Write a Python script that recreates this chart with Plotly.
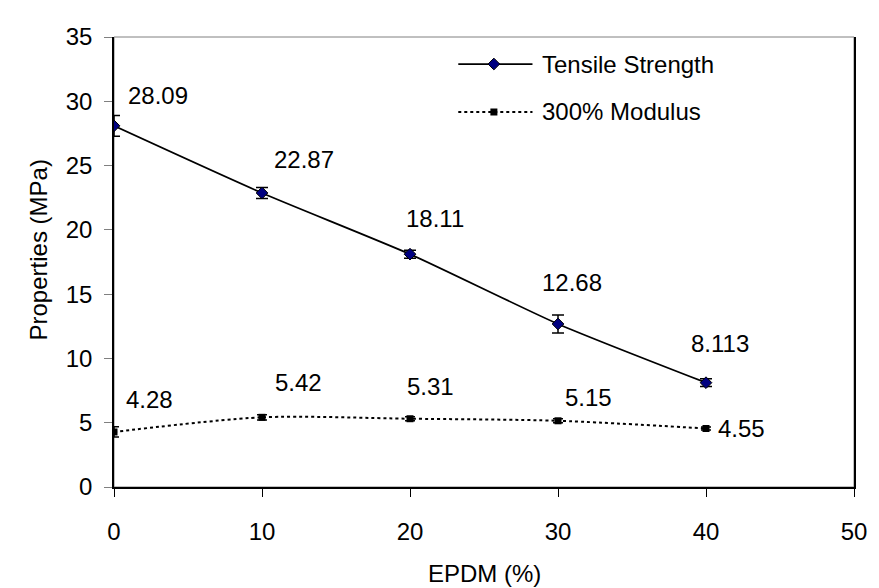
import plotly.graph_objects as go

epdm = [0, 10, 20, 30, 40]
tensile = [28.09, 22.87, 18.11, 12.68, 8.113]
tensile_err = [0.8, 0.43, 0.31, 0.7, 0.3]
modulus = [4.28, 5.42, 5.31, 5.15, 4.55]
modulus_err = [0.4, 0.2, 0.15, 0.15, 0.12]
tensile_labels = ["28.09", "22.87", "18.11", "12.68", "8.113"]
modulus_labels = ["4.28", "5.42", "5.31", "5.15", "4.55"]
x_ticks = [0, 10, 20, 30, 40, 50]
y_ticks = [0, 5, 10, 15, 20, 25, 30, 35]

# label pixel offsets (dx, dy)
tensile_off = [(44, 30), (42, 33), (25, 36), (14, 41), (14, 39)]
modulus_off = [(35, 32), (36, 35), (20, 32), (30, 23), (35, 0)]

FONT = "Liberation Sans, Arial, sans-serif"
FS = 24
NAVY = "#000080"

fig = go.Figure()
fig.add_trace(go.Scatter(
    x=epdm, y=tensile, mode="lines+markers", name="Tensile Strength",
    line=dict(color="black", width=1.75, shape="spline", smoothing=0.6),
    marker=dict(symbol="diamond", size=9, color=NAVY, line=dict(color="black", width=1)),
    error_y=dict(type="data", array=tensile_err, visible=True, color="black", thickness=1.5, width=6),
    showlegend=False))
fig.add_trace(go.Scatter(
    x=epdm, y=modulus, mode="lines+markers", name="300% Modulus",
    line=dict(color="black", width=2, dash="3px,3px", shape="spline", smoothing=0.8),
    marker=dict(symbol="square", size=7, color="black"),
    error_y=dict(type="data", array=modulus_err, visible=True, color="black", thickness=1.5, width=5),
    showlegend=False))

# legend samples on an overlay axis (0..1 over the plot area)
L_X0, L_X1, L_XM = (462 - 114) / 748, (537 - 114) / 748, (498 - 114) / 748
L_Y1, L_Y2 = (487 - 64) / 450, (487 - 112) / 450
fig.add_trace(go.Scatter(x=[L_X0, L_X1], y=[L_Y1, L_Y1], mode="lines",
                         line=dict(color="black", width=1.75), xaxis="x2", yaxis="y2",
                         showlegend=False, hoverinfo="skip"))
fig.add_trace(go.Scatter(x=[L_XM], y=[L_Y1], mode="markers",
                         marker=dict(symbol="diamond", size=9, color=NAVY, line=dict(color="black", width=1)),
                         xaxis="x2", yaxis="y2", showlegend=False, hoverinfo="skip"))
fig.add_trace(go.Scatter(x=[L_X0, L_X1], y=[L_Y2, L_Y2], mode="lines",
                         line=dict(color="black", width=2, dash="3px,3px"), xaxis="x2", yaxis="y2",
                         showlegend=False, hoverinfo="skip"))
fig.add_trace(go.Scatter(x=[L_XM], y=[L_Y2], mode="markers",
                         marker=dict(symbol="square", size=7, color="black"),
                         xaxis="x2", yaxis="y2", showlegend=False, hoverinfo="skip"))

annotations = []
for name, yy in (("Tensile Strength", L_Y1), ("300% Modulus", L_Y2)):
    annotations.append(dict(x=(545 - 114) / 748, y=yy, xref="paper", yref="paper", text=name,
                            showarrow=False, xanchor="left", yanchor="middle",
                            font=dict(family=FONT, size=FS, color="black")))

for xs, ys, labs, offs in ((epdm, tensile, tensile_labels, tensile_off),
                           (epdm, modulus, modulus_labels, modulus_off)):
    for xv, yv, lab, (dx, dy) in zip(xs, ys, labs, offs):
        annotations.append(dict(x=xv, y=yv, xref="x", yref="y", text=lab, showarrow=False,
                                xshift=dx, yshift=dy, xanchor="center", yanchor="middle",
                                font=dict(family=FONT, size=FS, color="black")))

annotations.append(dict(x=(22 - 114) / 748, y=(487 - 250) / 450, xref="paper", yref="paper",
                        text="Properties (MPa)", showarrow=False, textangle=-90,
                        font=dict(family=FONT, size=FS, color="black")))
annotations.append(dict(x=0.5, y=(487 - 573) / 450, xref="paper", yref="paper",
                        text="EPDM (%)", showarrow=False, xanchor="center", yanchor="middle",
                        font=dict(family=FONT, size=FS, color="black")))

fig.update_layout(
    width=879, height=588,
    margin=dict(l=114, r=17, t=37, b=101),
    paper_bgcolor="white", plot_bgcolor="white",
    font=dict(family=FONT, size=FS, color="black"),
    showlegend=False,
    annotations=annotations,
    shapes=[dict(type="rect", xref="paper", yref="paper", x0=0, y0=0, x1=1, y1=1,
                 line=dict(color="#808080", width=1), layer="below")],
    xaxis=dict(range=[0, 50], tickvals=x_ticks, showgrid=False, zeroline=False,
               showline=True, linecolor="black", linewidth=2,
               ticks="outside", ticklen=8, tickcolor="black", tickwidth=1,
               ticklabelstandoff=14, tickfont=dict(family=FONT, size=FS)),
    yaxis=dict(range=[0, 35], tickvals=y_ticks, showgrid=False, zeroline=False,
               showline=True, linecolor="black", linewidth=1.5, mirror=True,
               ticks="outside", ticklen=8, tickcolor="#808080", tickwidth=1,
               ticklabelstandoff=7, tickfont=dict(family=FONT, size=FS)),
    xaxis2=dict(overlaying="x", range=[0, 1], visible=False, anchor="y2"),
    yaxis2=dict(overlaying="y", range=[0, 1], visible=False, anchor="x2"),
)

fig.write_html("out.html")
